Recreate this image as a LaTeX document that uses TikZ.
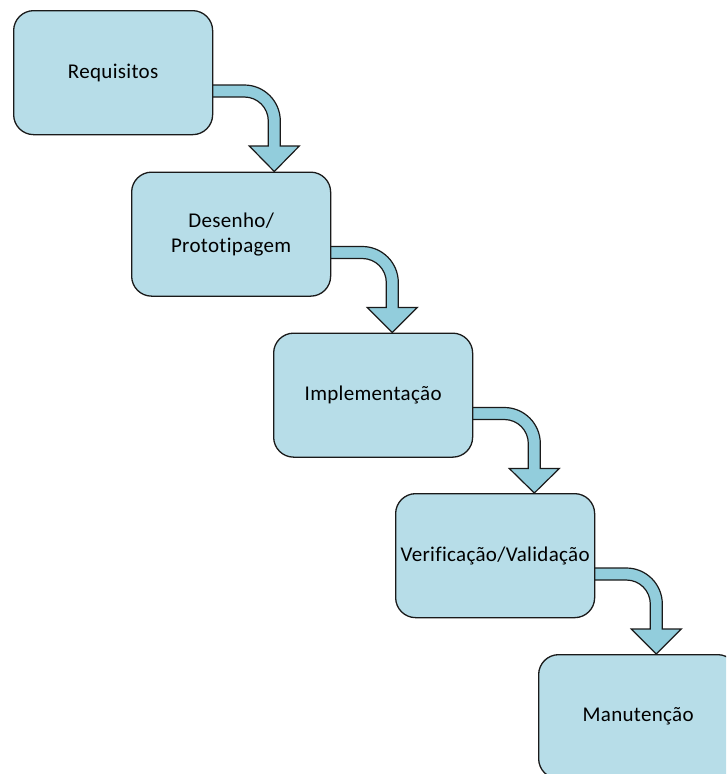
\documentclass[tikz,border=0pt]{standalone}
\usepackage{fontspec}
\setmainfont[Ligatures=NoCommon, LetterSpace=1.5]{Carlito}
\usetikzlibrary{calc}

\definecolor{stagefill}{HTML}{B7DDE8}
\definecolor{arrowfill}{HTML}{92CDDC}
\definecolor{edgeline}{HTML}{1A1A1A}

\tikzset{
  stagebox/.style={draw=edgeline, line width=1.3pt, fill=stagefill,
    rounded corners=20pt, minimum width=199pt, minimum height=124pt,
    anchor=north west, align=center, inner sep=0pt,
    font=\fontsize{21}{25}\selectfont, text=black},
  bentarrow/.style={draw=edgeline, line width=1.2pt, fill=arrowfill,
    line join=miter}
}

% bent block arrow leaving the right side of #1 and pointing down onto #2
\newcommand{\stagearrow}[2]{%
  \coordinate (ne) at (#1.north east);
  \coordinate (tx) at ($(ne)+(61,0)$);
  \coordinate (tip) at (tx |- #2.north);
  \draw[bentarrow]
    ($(ne)+(-4,75)$) -- ($(ne)+(31,75)$)
    arc[start angle=-90, end angle=0, radius=36]
    -- ($(ne)+(67,136)$) -- ($(ne)+(86,136)$) -- (tip)
    -- ($(ne)+(36,136)$) -- ($(ne)+(55,136)$) -- ($(ne)+(55,111)$)
    arc[start angle=0, end angle=-90, radius=24]
    -- ($(ne)+(-4,87)$) -- cycle;
}

\begin{document}
\begin{tikzpicture}[x=1pt, y=-1pt]
  \useasboundingbox (0,0) rectangle (726,774);
  \clip (0,0) rectangle (726,774);

  % stage positions (top-left corners)
  \node[stagebox, draw=none, fill=none] (s1) at (13,10) {};
  \node[stagebox, draw=none, fill=none] (s2) at (131,171.5) {};
  \node[stagebox, draw=none, fill=none] (s3) at (273,332.5) {};
  \node[stagebox, draw=none, fill=none] (s4) at (395,493) {};
  \node[stagebox, draw=none, fill=none] (s5) at (538,654) {};

  % connecting arrows, drawn beneath the boxes
  \stagearrow{s1}{s2}
  \stagearrow{s2}{s3}
  \stagearrow{s3}{s4}
  \stagearrow{s4}{s5}

  % the boxes themselves
  \node[stagebox] (b1) at (s1.north west) {Requisitos};
  \node[stagebox] (b2) at (s2.north west) {Desenho/\\Prototipagem};
  \node[stagebox] (b3) at (s3.north west) {Implementação};
  \node[stagebox] (b4) at (s4.north west) {Verificação/Validação};
  \node[stagebox] (b5) at (s5.north west) {Manutenção};
\end{tikzpicture}
\end{document}
